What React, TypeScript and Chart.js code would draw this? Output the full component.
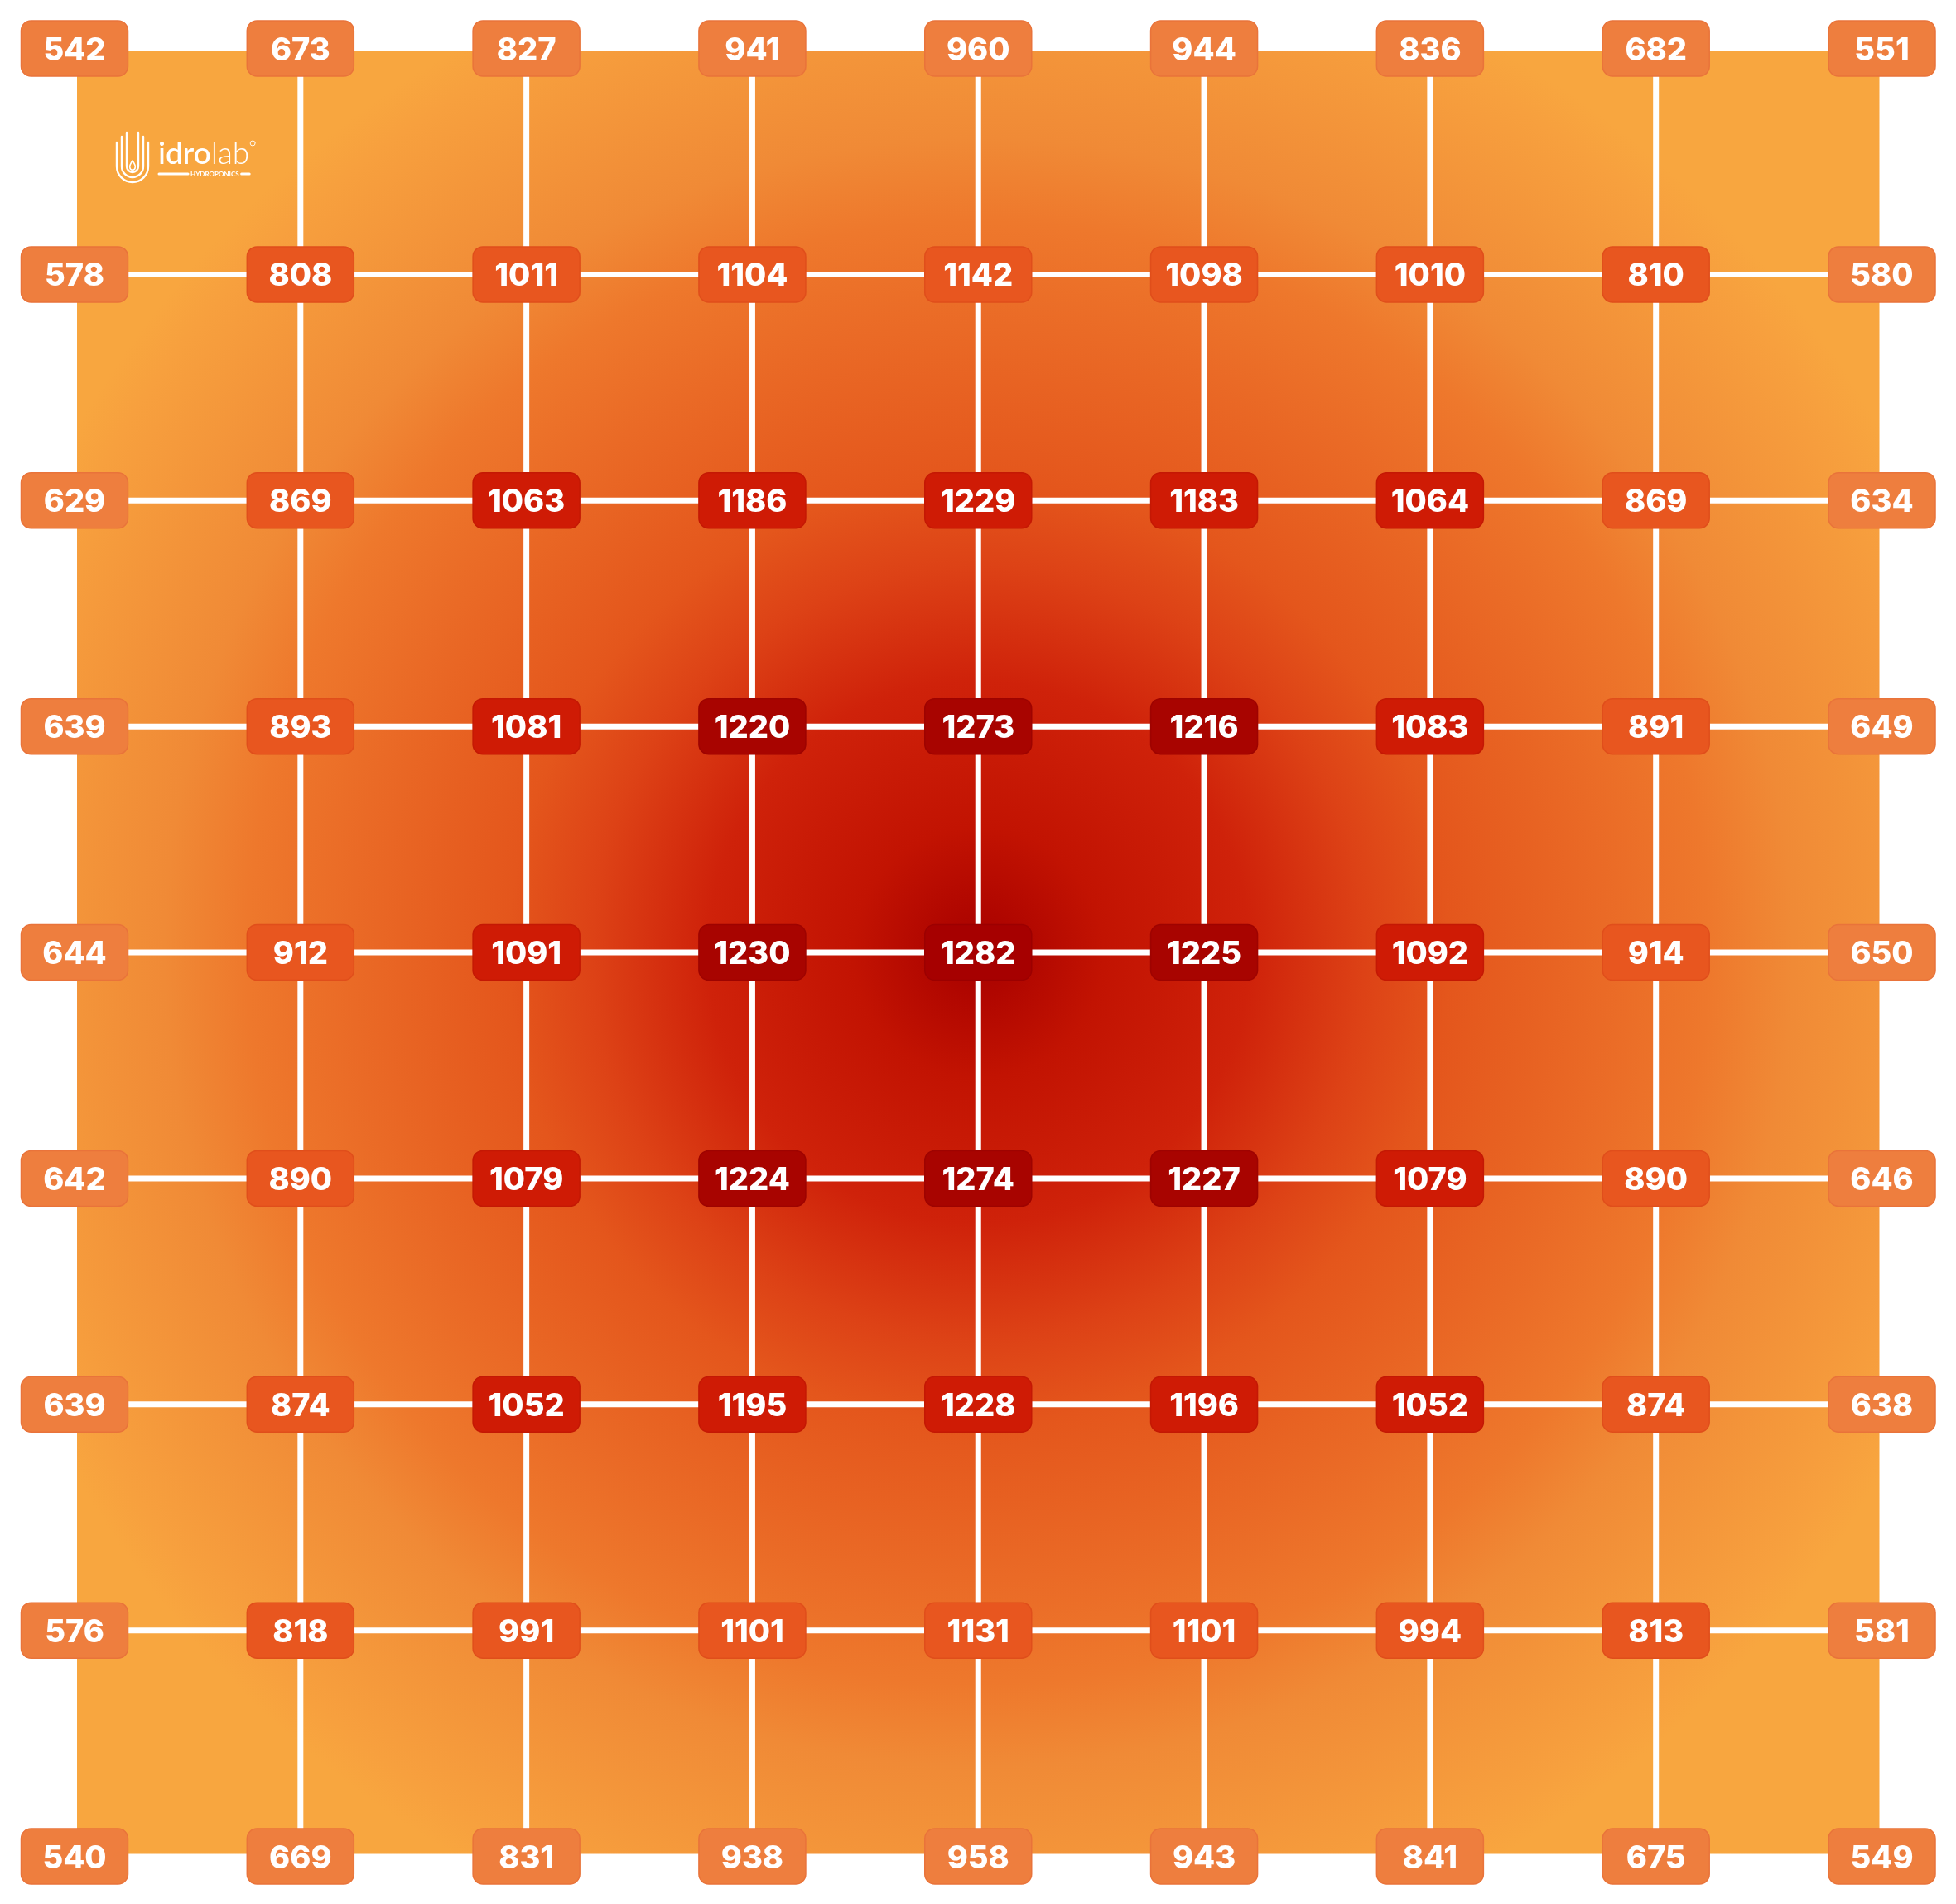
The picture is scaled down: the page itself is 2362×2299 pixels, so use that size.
import React, { useEffect, useRef } from "react";
import { Chart, registerables } from "chart.js";

Chart.register(...registerables);

// Column / row positions of the measurement grid (9 x 9)
const COLS = [0, 1, 2, 3, 4, 5, 6, 7, 8];
const ROWS = [0, 1, 2, 3, 4, 5, 6, 7, 8];

// PPFD readings, one array per row (top to bottom)
const row0 = [542, 673, 827, 941, 960, 944, 836, 682, 551];
const row1 = [578, 808, 1011, 1104, 1142, 1098, 1010, 810, 580];
const row2 = [629, 869, 1063, 1186, 1229, 1183, 1064, 869, 634];
const row3 = [639, 893, 1081, 1220, 1273, 1216, 1083, 891, 649];
const row4 = [644, 912, 1091, 1230, 1282, 1225, 1092, 914, 650];
const row5 = [642, 890, 1079, 1224, 1274, 1227, 1079, 890, 646];
const row6 = [639, 874, 1052, 1195, 1228, 1196, 1052, 874, 638];
const row7 = [576, 818, 991, 1101, 1131, 1101, 994, 813, 581];
const row8 = [540, 669, 831, 938, 958, 943, 841, 675, 549];

const GRID = [row0, row1, row2, row3, row4, row5, row6, row7, row8];

// Label colours by ring (outer ring -> centre)
const RING_COLORS = ["#EE7E3E", "#E8561F", "#CF1B05", "#A80400", "#A60000"];
const RING_BORDERS = ["#E9733A", "#E04E1B", "#C41804", "#9E0300", "#9C0000"];

const W = 2362;
const H = 2299;

function roundRect(ctx: CanvasRenderingContext2D, x: number, y: number, w: number, h: number, r: number) {
  ctx.beginPath();
  ctx.moveTo(x + r, y);
  ctx.lineTo(x + w - r, y);
  ctx.arcTo(x + w, y, x + w, y + r, r);
  ctx.lineTo(x + w, y + h - r);
  ctx.arcTo(x + w, y + h, x + w - r, y + h, r);
  ctx.lineTo(x + r, y + h);
  ctx.arcTo(x, y + h, x, y + h - r, r);
  ctx.lineTo(x, y + r);
  ctx.arcTo(x, y, x + r, y, r);
  ctx.closePath();
}

function drawLogo(ctx: CanvasRenderingContext2D, ox: number, oy: number) {
  ctx.save();
  ctx.strokeStyle = "#FFFFFF";
  ctx.fillStyle = "#FFFFFF";
  ctx.lineWidth = 2.4;
  ctx.lineCap = "round";
  const cx = ox + 20;
  const cy = oy + 41;
  const rings = [
    { r: 19, top: oy + 12 },
    { r: 13, top: oy + 5 },
    { r: 7, top: oy + 0 },
  ];
  rings.forEach(({ r, top }) => {
    ctx.beginPath();
    ctx.moveTo(cx - r, top);
    ctx.lineTo(cx - r, cy);
    ctx.arc(cx, cy, r, Math.PI, 0, true);
    ctx.lineTo(cx + r, top);
    ctx.stroke();
  });
  // droplet
  ctx.beginPath();
  ctx.moveTo(cx, cy - 7);
  ctx.quadraticCurveTo(cx + 4, cy - 1, cx + 3.2, cy + 1);
  ctx.arc(cx, cy + 1, 3.2, 0, Math.PI, false);
  ctx.quadraticCurveTo(cx - 4, cy - 1, cx, cy - 7);
  ctx.lineWidth = 1.6;
  ctx.stroke();

  // wordmark
  const tx = ox + 51;
  const base = oy + 38;
  ctx.textBaseline = "alphabetic";
  ctx.textAlign = "left";
  ctx.font = "500 37px Lato, 'Open Sans', sans-serif";
  ctx.fillText("idro", tx, base);
  const w1 = ctx.measureText("idro").width;
  ctx.font = "300 37px Lato, 'Open Sans', sans-serif";
  ctx.fillText("lab", tx + w1, base);
  const w2 = ctx.measureText("lab").width;
  // registered mark
  ctx.lineWidth = 0.9;
  ctx.beginPath();
  ctx.arc(tx + w1 + w2 + 4, base - 25, 3, 0, Math.PI * 2);
  ctx.stroke();
  // HYDROPONICS bar
  const total = w1 + w2;
  const by = oy + 50;
  ctx.font = "700 8px Lato, 'Open Sans', sans-serif";
  ctx.textBaseline = "middle";
  ctx.textAlign = "center";
  const label = "HYDROPONICS";
  const lw = ctx.measureText(label).width;
  const lx = tx + total * 0.62;
  ctx.fillText(label, lx, by + 0.5);
  ctx.lineWidth = 3;
  ctx.beginPath();
  ctx.moveTo(tx + 1, by);
  ctx.lineTo(lx - lw / 2 - 3, by);
  ctx.moveTo(lx + lw / 2 + 3, by);
  ctx.lineTo(tx + total, by);
  ctx.stroke();
  ctx.restore();
}

const heatPlugin = {
  id: "heatGrid",
  beforeDatasetsDraw(chart: any) {
    const { ctx, chartArea: a, scales } = chart;
    const xs = scales.x;
    const ys = scales.y;
    ctx.save();
    // background square with radial gradient
    const cx = xs.getPixelForValue(4);
    const cy = ys.getPixelForValue(4);
    const g = ctx.createRadialGradient(cx, cy, 0, cx, cy, 1260);
    g.addColorStop(0, "#A60200");
    g.addColorStop(0.04, "#B00600");
    g.addColorStop(0.12, "#C21302");
    g.addColorStop(0.26, "#CF220A");
    g.addColorStop(0.37, "#DD4216");
    g.addColorStop(0.45, "#E4561C");
    g.addColorStop(0.6, "#EA6A26");
    g.addColorStop(0.7, "#EE782C");
    g.addColorStop(0.78, "#F08A36");
    g.addColorStop(0.96, "#F7A03E");
    g.addColorStop(1, "#F8A63F");
    ctx.fillStyle = g;
    ctx.fillRect(a.left + 3, a.top + 3, a.right - a.left - 6, a.bottom - a.top - 6);

    // logo
    drawLogo(ctx, 140, 160);

    // white grid lines (inner only)
    ctx.strokeStyle = "#FFFFFF";
    ctx.lineWidth = 7;
    const x0 = xs.getPixelForValue(COLS[0]);
    const x8 = xs.getPixelForValue(COLS[COLS.length - 1]);
    const y0 = ys.getPixelForValue(ROWS[0]);
    const y8 = ys.getPixelForValue(ROWS[ROWS.length - 1]);
    COLS.slice(1, -1).forEach((c) => {
      const px = xs.getPixelForValue(c);
      ctx.beginPath();
      ctx.moveTo(px, y0);
      ctx.lineTo(px, y8);
      ctx.stroke();
    });
    ROWS.slice(1, -1).forEach((r) => {
      const py = ys.getPixelForValue(r);
      ctx.beginPath();
      ctx.moveTo(x0, py);
      ctx.lineTo(x8, py);
      ctx.stroke();
    });
    ctx.restore();
  },
  afterDatasetsDraw(chart: any) {
    const { ctx } = chart;
    const meta = chart.getDatasetMeta(0);
    const data = chart.data.datasets[0].data as any[];
    ctx.save();
    const bw = 129;
    const bh = 67;
    meta.data.forEach((el: any, i: number) => {
      const d = data[i];
      const n = COLS.length - 1;
      const ring = Math.min(d.x, d.y, n - d.x, n - d.y);
      const px = el.x;
      const py = el.y;
      roundRect(ctx, px - bw / 2, py - bh / 2, bw, bh, 12);
      ctx.fillStyle = RING_COLORS[ring];
      ctx.fill();
      ctx.lineWidth = 1.5;
      ctx.strokeStyle = RING_BORDERS[ring];
      ctx.stroke();
      ctx.fillStyle = "#FFFFFF";
      ctx.font = "800 38px Inter, 'Noto Sans', sans-serif";
      ctx.textAlign = "center";
      ctx.textBaseline = "alphabetic";
      ctx.fillText(String(d.v), px, py + 14);
    });
    ctx.restore();
  },
};

export default function App() {
  const ref = useRef<HTMLCanvasElement | null>(null);
  useEffect(() => {
    const canvas = ref.current;
    if (!canvas) return;
    const points: { x: number; y: number; v: number }[] = [];
    ROWS.forEach((r) => {
      COLS.forEach((c) => {
        points.push({ x: c, y: r, v: GRID[r][c] });
      });
    });
    const chart = new Chart(canvas, {
      type: "scatter",
      data: {
        datasets: [
          {
            label: "PPFD",
            data: points as any,
            pointRadius: 0,
            pointHoverRadius: 0,
          },
        ],
      },
      options: {
        responsive: false,
        devicePixelRatio: 1,
        animation: false,
        events: [],
        layout: { padding: { left: 90, right: 89.5, top: 58.5, bottom: 57.5 } },
        scales: {
          x: { type: "linear", min: 0, max: 8, display: false },
          y: { type: "linear", min: 0, max: 8, reverse: true, display: false },
        },
        plugins: {
          legend: { display: false },
          tooltip: { enabled: false },
        },
      },
      plugins: [heatPlugin],
    });
    return () => chart.destroy();
  }, []);
  return (
    <div style={{ position: "absolute", left: 0, top: 0, width: W, height: H, background: "#FFFFFF" }}>
      <canvas ref={ref} width={W} height={H} style={{ display: "block", width: W, height: H }} />
    </div>
  );
}
